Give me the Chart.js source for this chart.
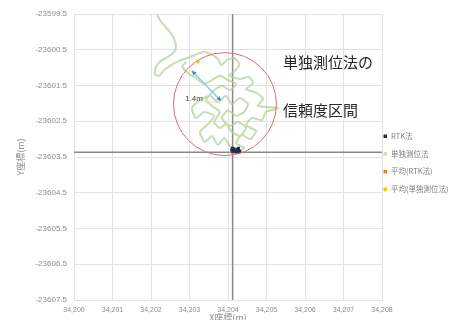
<!DOCTYPE html>
<html>
<head>
<meta charset="utf-8">
<script src="https://cdn.jsdelivr.net/npm/chart.js@4.4.0/dist/chart.umd.min.js"></script>
<style>
  html, body { margin: 0; padding: 0; background: #fff; }
  #wrap { width: 463px; height: 320px; }
</style>
</head>
<body>
<div id="wrap"><canvas id="canvas" width="463" height="320"></canvas></div>
<script>
// axes (m)
var xMin = 34200, xMax = 34208;
var yMin = -23607.5, yMax = -23599.5;

// 単独測位法 track
var singleX = [34202.16,34202.23,34202.36,34202.49,34202.60,34202.65,34202.60,34202.44,34202.26,34202.13,
  34202.10,34202.21,34202.34,34202.52,34202.73,34202.94,34203.14,34203.35,34203.56,34203.74,
  34203.82,34203.97,34204.16,34204.29,34204.18,34204.03,34204.31,34204.55,34204.65,34204.47,
  34204.75,34204.91,34204.78,34205.30,34204.99,34204.88,34204.62,34204.47,34204.73,34204.57,
  34204.36,34204.21,34204.42,34204.23,34204.05,34203.90,34203.74,34203.58,34203.40,34203.27,
  34203.48,34203.64,34203.38,34203.17,34203.06,34203.27,34203.53,34203.74,34203.95,34204.10,
  34204.31,34204.52,34204.42,34204.21,34204.00,34203.84,34204.05,34204.26,34204.47,34204.31,
  34204.10,34203.95,34203.79,34203.64,34203.79,34203.58,34203.43,34203.64,34203.84,34204.05,
  34204.21,34204.00,34203.79,34203.58,34203.38,34203.17,34202.96,34202.81,34202.91];
var singleY = [-23599.50,-23599.67,-23599.84,-23600.00,-23600.20,-23600.40,-23600.56,-23600.70,-23600.81,-23600.98,
  -23601.18,-23601.23,-23601.07,-23600.93,-23600.81,-23600.73,-23600.65,-23600.56,-23600.62,-23600.76,
  -23600.93,-23600.79,-23600.73,-23600.90,-23601.09,-23601.21,-23601.32,-23601.26,-23601.43,-23601.60,
  -23601.71,-23601.88,-23602.07,-23602.13,-23602.24,-23602.47,-23602.41,-23602.61,-23602.77,-23603.00,
  -23602.88,-23603.11,-23603.25,-23603.33,-23603.19,-23602.97,-23603.16,-23602.91,-23603.08,-23602.80,
  -23602.58,-23602.35,-23602.24,-23602.41,-23602.13,-23601.91,-23601.79,-23601.96,-23601.79,-23602.02,
  -23601.85,-23602.02,-23602.24,-23602.35,-23602.19,-23602.41,-23602.63,-23602.52,-23602.69,-23602.91,
  -23602.80,-23602.58,-23602.69,-23602.52,-23602.24,-23602.07,-23601.91,-23601.63,-23601.51,-23601.63,
  -23601.46,-23601.35,-23601.23,-23601.35,-23601.46,-23601.29,-23601.15,-23600.98,-23600.84];

// RTK法 points
var rtkX = [34204.10,34204.13,34204.16,34204.19,34204.22,34204.25,34204.28,34204.30,34204.12,34204.27];
var rtkY = [-23603.30,-23603.34,-23603.28,-23603.33,-23603.36,-23603.29,-23603.32,-23603.35,-23603.26,-23603.26];

// 平均
var meanRtk = [34204.12, -23603.37];
var meanSingle = [34203.22, -23600.84];

// 信頼度区間 (circle) and arrow
var circleCenter = [34203.92, -23602.02];
var circleRadius = 1.44;
var arrowFrom = [34203.82, -23601.93];
var arrowTo = [34203.06, -23601.09];
var radiusLabel = '1.4m';
var radiusLabelPos = [34203.35, -23601.88];
var noteLines = ['単独測位法の', '信頼度区間'];
var notePos = [[34205.43, -23600.84], [34205.43, -23602.19]];

var legendNames = ['RTK法', '単独測位法', '平均(RTK法)', '平均(単独測位法)'];
var legendColors = ['#1f2d50', '#c9e0b6', '#ed7d31', '#ffc000'];

function pts(xs, ys){
  var out = [];
  for (var i = 0; i < xs.length; i++) out.push({x: xs[i], y: ys[i]});
  return out;
}

var overlay = {
  id: 'overlay',
  afterDatasetsDraw: function(chart){
    var ctx = chart.ctx, sx = chart.scales.x, sy = chart.scales.y;
    ctx.save();
    // circle
    var cx = sx.getPixelForValue(circleCenter[0]);
    var cy = sy.getPixelForValue(circleCenter[1]);
    var r = Math.abs(sy.getPixelForValue(circleCenter[1] + circleRadius) - cy);
    ctx.beginPath();
    ctx.arc(cx, cy, r, 0, Math.PI * 2);
    ctx.strokeStyle = '#e46a72';
    ctx.lineWidth = 1;
    ctx.stroke();
    // arrow
    var ax = sx.getPixelForValue(arrowFrom[0]), ay = sy.getPixelForValue(arrowFrom[1]);
    var bx = sx.getPixelForValue(arrowTo[0]), by = sy.getPixelForValue(arrowTo[1]);
    ctx.beginPath();
    ctx.moveTo(ax, ay); ctx.lineTo(bx, by);
    ctx.strokeStyle = '#8ccdee';
    ctx.lineWidth = 1.5;
    ctx.stroke();
    function head(px, py, qx, qy){
      var a = Math.atan2(qy - py, qx - px);
      ctx.beginPath();
      ctx.moveTo(qx, qy);
      ctx.lineTo(qx - 5 * Math.cos(a - 0.45), qy - 5 * Math.sin(a - 0.45));
      ctx.lineTo(qx - 5 * Math.cos(a + 0.45), qy - 5 * Math.sin(a + 0.45));
      ctx.closePath();
      ctx.fillStyle = '#3f86c4';
      ctx.fill();
    }
    head(ax, ay, bx, by);
    head(bx, by, ax, ay);
    // 1.4m label + leader
    var lx = sx.getPixelForValue(radiusLabelPos[0]), ly = sy.getPixelForValue(radiusLabelPos[1]);
    ctx.beginPath();
    ctx.moveTo(lx + 1, ly + 2); ctx.lineTo(ax - 1, ay + 2);
    ctx.strokeStyle = '#e6dfb8';
    ctx.lineWidth = 1;
    ctx.stroke();
    ctx.font = '8px "Liberation Sans", Arial, sans-serif';
    ctx.fillStyle = '#404040';
    ctx.textAlign = 'right';
    ctx.textBaseline = 'middle';
    ctx.fillText(radiusLabel, lx, ly);
    ctx.restore();
  },
  afterDraw: function(chart){
    var ctx = chart.ctx, sx = chart.scales.x, sy = chart.scales.y, area = chart.chartArea;
    ctx.save();
    // notes
    ctx.font = '15px "Noto Sans CJK JP", sans-serif';
    ctx.fillStyle = '#262626';
    ctx.textAlign = 'left';
    ctx.textBaseline = 'middle';
    for (var i = 0; i < noteLines.length; i++) {
      ctx.fillText(noteLines[i], sx.getPixelForValue(notePos[i][0]), sy.getPixelForValue(notePos[i][1]));
    }
    // legend
    ctx.font = '7.5px "Noto Sans CJK JP", sans-serif';
    for (var k = 0; k < legendNames.length; k++) {
      var ly = 136 + k * 17.7;
      var lx = area.right + 3;
      ctx.fillStyle = legendColors[k];
      ctx.fillRect(lx - 1.5, ly - 1.5, 3.5, 3.5);
      ctx.fillStyle = '#7f7f7f';
      ctx.fillText(legendNames[k], lx + 6, ly);
    }
    ctx.restore();
  }
};

var gridColor = '#e3e3e3';
var tickColor = '#8c8c8c';

var config = {
  type: 'scatter',
  data: {
    datasets: [
      {
        label: legendNames[0],
        data: pts(rtkX, rtkY),
        pointStyle: 'rect',
        pointRadius: 2.3,
        backgroundColor: legendColors[0],
        borderColor: legendColors[0],
        borderWidth: 0,
        order: 1
      },
      {
        label: legendNames[2],
        data: [{x: meanRtk[0], y: meanRtk[1]}],
        pointStyle: 'rect',
        pointRadius: 2.3,
        backgroundColor: legendColors[2],
        borderWidth: 0,
        order: 2
      },
      {
        label: legendNames[3],
        data: [{x: meanSingle[0], y: meanSingle[1]}],
        pointStyle: 'rect',
        pointRadius: 2,
        backgroundColor: legendColors[3],
        borderWidth: 0,
        order: 0
      },
      {
        label: legendNames[1],
        data: pts(singleX, singleY),
        showLine: true,
        pointRadius: 0,
        borderColor: 'rgba(176,211,148,0.75)',
        borderWidth: 2,
        tension: 0.2,
        order: 3
      },
      // lines through 平均(RTK法)
      {
        label: 'vline',
        data: [{x: meanRtk[0], y: yMin}, {x: meanRtk[0], y: yMax}],
        showLine: true,
        pointRadius: 0,
        borderColor: '#8a8a8a',
        borderWidth: 1.5,
        order: 4
      },
      {
        label: 'hline',
        data: [{x: xMin, y: meanRtk[1]}, {x: xMax, y: meanRtk[1]}],
        showLine: true,
        pointRadius: 0,
        borderColor: '#8a8a8a',
        borderWidth: 1.5,
        order: 4
      }
    ]
  },
  options: {
    responsive: false,
    animation: false,
    layout: { padding: { left: 0, right: 81, top: 14, bottom: -6 } },
    plugins: { legend: { display: false }, tooltip: { enabled: false } },
    scales: {
      x: {
        type: 'linear',
        min: xMin, max: xMax,
        ticks: { stepSize: 1, color: tickColor, padding: 6, maxRotation: 0,
                 font: { size: 7, family: '"Liberation Sans", Arial, sans-serif' } },
        grid: { color: gridColor, drawTicks: false },
        border: { color: gridColor },
        title: { display: true, text: 'X座標(m)', color: tickColor, padding: { top: 0, bottom: 3 },
                 font: { size: 9, family: '"Noto Sans CJK JP", sans-serif' } },
        afterFit: function(s){ s.height = 26; }
      },
      y: {
        type: 'linear',
        min: yMin, max: yMax,
        ticks: { stepSize: 1, color: tickColor, padding: 7,
                 font: { size: 8, family: '"Liberation Sans", Arial, sans-serif' },
                 callback: function(v){ return v.toFixed(1); } },
        grid: { color: gridColor, drawTicks: false },
        border: { color: gridColor },
        title: { display: true, text: 'Y座標(m)', color: tickColor, padding: { top: 15, bottom: 0 },
                 font: { size: 9, family: '"Noto Sans CJK JP", sans-serif' } },
        afterFit: function(s){ s.width = 74; }
      }
    }
  },
  plugins: [overlay]
};

window.onload = function(){
  var ctx = document.getElementById('canvas').getContext('2d');
  window.myChart = new Chart(ctx, config);
};
</script>
</body>
</html>
